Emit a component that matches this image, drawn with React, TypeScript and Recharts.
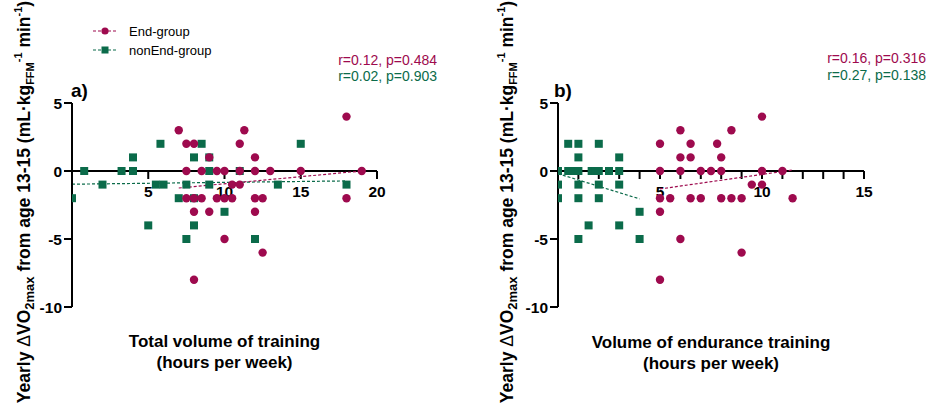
import React from 'react'
import { ScatterChart, Scatter, XAxis, YAxis, ReferenceLine } from 'recharts'

const FONT = "'Liberation Sans', Arial, Helvetica, sans-serif"
const END_COLOR = '#9E0A4E'
const NON_END_COLOR = '#0B6B4A'

// a) total training volume (h/week) vs yearly change
const totalEnd = [
  { x: 7, y: 3 }, { x: 7.5, y: 2 }, { x: 8, y: 2 }, { x: 9, y: 1 }, { x: 11, y: 2 },
  { x: 11.3, y: 3 }, { x: 12, y: 1 }, { x: 18, y: 4 },
  { x: 7.5, y: 0 }, { x: 8.5, y: 0 }, { x: 9.5, y: 0 }, { x: 10, y: 0 }, { x: 11, y: 0 },
  { x: 12, y: 0 }, { x: 13, y: 0 }, { x: 15, y: 0 }, { x: 19, y: 0 },
  { x: 10.5, y: -1 }, { x: 11, y: -1 },
  { x: 7.5, y: -2 }, { x: 8, y: -2 }, { x: 8.5, y: -2 }, { x: 9.5, y: -2 }, { x: 10, y: -2 },
  { x: 10.5, y: -2 }, { x: 12, y: -2 }, { x: 12.5, y: -2 }, { x: 18, y: -2 },
  { x: 8, y: -3 }, { x: 9, y: -3 }, { x: 12, y: -3 },
  { x: 10, y: -5 }, { x: 12.5, y: -6 }, { x: 8, y: -8 },
]
const totalNonEnd = [
  { x: 0, y: -2 }, { x: 0.8, y: 0 }, { x: 2, y: -1 }, { x: 3.25, y: 0 }, { x: 4, y: 1 },
  { x: 4, y: 0 }, { x: 5, y: -4 }, { x: 5.5, y: -1 }, { x: 6, y: -1 }, { x: 5.8, y: 2 },
  { x: 7, y: -2 }, { x: 7.5, y: -5 }, { x: 7.5, y: -1 }, { x: 8, y: 1 }, { x: 8, y: -4 },
  { x: 8, y: -2 }, { x: 8.5, y: 2 }, { x: 9, y: 0 }, { x: 9, y: -1 }, { x: 9, y: 1 },
  { x: 10, y: -3 }, { x: 11, y: 0 }, { x: 12, y: -5 }, { x: 13.5, y: -1 }, { x: 15, y: 2 },
  { x: 18, y: -1 },
]
const totalEndFit = [{ x: 7, y: -1.25 }, { x: 19, y: 0 }]
const totalNonEndFit = [{ x: 0, y: -0.97 }, { x: 18, y: -0.73 }]

// b) endurance training volume (h/week) vs yearly change
const enduranceEnd = [
  { x: 5, y: 2 }, { x: 5, y: 0 }, { x: 5, y: -2 }, { x: 5, y: -3 }, { x: 5, y: -8 },
  { x: 5.5, y: -2 }, { x: 6, y: 3 }, { x: 6, y: 1 }, { x: 6, y: 0 }, { x: 6, y: -5 },
  { x: 6.5, y: 2 }, { x: 6.5, y: 1 }, { x: 6.5, y: -2 }, { x: 7, y: 0 }, { x: 7, y: -2 },
  { x: 7.5, y: 0 }, { x: 7.8, y: 2 }, { x: 8, y: 1 }, { x: 8, y: 0 }, { x: 8, y: -2 },
  { x: 8.5, y: 3 }, { x: 8.5, y: -2 }, { x: 9, y: -2 }, { x: 9, y: -6 }, { x: 9.5, y: -1 },
  { x: 10, y: 4 }, { x: 10, y: 0 }, { x: 10, y: -1 }, { x: 11, y: 0 }, { x: 11.5, y: -2 },
]
const enduranceNonEnd = [
  { x: 0, y: 0 }, { x: 0, y: -1 }, { x: 0, y: -2 },
  { x: 0.5, y: 2 }, { x: 0.5, y: 0 }, { x: 0.75, y: 0 },
  { x: 1, y: 2 }, { x: 1, y: 1 }, { x: 1, y: 0 }, { x: 1, y: -1 }, { x: 1, y: -2 }, { x: 1, y: -5 },
  { x: 1.5, y: -4 }, { x: 1.65, y: 0 }, { x: 1.85, y: 0 },
  { x: 2, y: 2 }, { x: 2, y: 0 }, { x: 2, y: -1 }, { x: 2, y: -2 },
  { x: 2.5, y: 0 }, { x: 3, y: 1 }, { x: 3, y: 0 }, { x: 3, y: -1 }, { x: 3, y: -4 },
  { x: 4, y: -3 }, { x: 4, y: -5 },
]
const enduranceEndFit = [{ x: 5, y: -1.32 }, { x: 11.5, y: 0.07 }]
const enduranceNonEndFit = [{ x: 0, y: -0.2 }, { x: 4, y: -2.05 }]

const yTicks = [-10, -5, 0, 5]
const totalTicks = [5, 10, 15, 20]
const enduranceTicks = [1, 2, 3, 4, 5, 6, 7, 8, 9, 10, 11, 12, 13, 14, 15]
const enduranceLabels = [5, 10, 15]

const Dot = (props: any) => {
  const { cx, cy, fill } = props
  if (cx == null || cy == null) return null
  return <circle cx={cx} cy={cy} r={4.2} fill={fill} />
}

const Square = (props: any) => {
  const { cx, cy, fill } = props
  if (cx == null || cy == null) return null
  return <rect x={cx - 4} y={cy - 4} width={8} height={8} fill={fill} />
}

// x axis drawn along y = 0, with ticks hanging below it
const zeroAxis = (xMax: number, ticks: number[], labels: number[]) => (props: any) => {
  const { x1, x2, y1 } = props
  const px = (v: number) => x1 + ((x2 - x1) * v) / xMax
  return (
    <g>
      <line x1={x1} x2={x2} y1={y1} y2={y1} stroke="#000" strokeWidth={2} />
      {ticks.map((t) => (
        <line key={t} x1={px(t)} x2={px(t)} y1={y1} y2={y1 + 8} stroke="#000" strokeWidth={2} />
      ))}
      {labels.map((t) => (
        <text key={t} x={px(t)} y={y1 + 26} textAnchor="middle" fontFamily={FONT}
          fontSize={15.5} fontWeight="bold" fill="#000">{t}</text>
      ))}
    </g>
  )
}

const YTitle = ({ viewBox, baseX }: any) => {
  const cy = viewBox.y + viewBox.height / 2 - 3
  return (
    <text x={baseX} y={cy} transform={`rotate(-90 ${baseX} ${cy})`} textAnchor="middle"
      fontFamily={FONT} fontSize={17.5} fontWeight="bold" fill="#000">
      Yearly{' '}
      <tspan fontWeight="normal">Δ</tspan>VO
      <tspan fontSize={13} dy={4}>2max</tspan>
      <tspan dy={-4}> from age 13-15 (mL·kg</tspan>
      <tspan fontSize={11} dy={4}>FFM</tspan>
      <tspan fontSize={11} dy={-12}>-1</tspan>
      <tspan dy={8}> min</tspan>
      <tspan fontSize={11} dy={-8}>-1</tspan>
      <tspan dy={8}>)</tspan>
    </text>
  )
}

const XTitle = ({ viewBox, lines, dy }: any) => {
  const cx = viewBox.x + viewBox.width / 2
  return (
    <text textAnchor="middle" fontFamily={FONT} fontSize={17} fontWeight="bold" fill="#000">
      <tspan x={cx} y={viewBox.y + dy}>{lines[0]}</tspan>
      <tspan x={cx} y={viewBox.y + dy + 21}>{lines[1]}</tspan>
    </text>
  )
}

function Panel(props: any) {
  const {
    left, width, yAxisWidth, marginRight, xMax, ticks, labels,
    endData, nonEndData, endFit, nonEndFit, title, titleDy, yTitleX,
  } = props
  return (
    <div style={{ position: 'absolute', left, top: 0 }}>
      <ScatterChart width={width} height={404}
        margin={{ top: 103, right: marginRight, bottom: 0, left: 0 }}>
        <XAxis type="number" dataKey="x" domain={[0, xMax]} allowDataOverflow
          axisLine={false} tickLine={false} tick={false} height={97}
          label={{ content: (p: any) => <XTitle {...p} lines={title} dy={titleDy} /> }} />
        <YAxis type="number" dataKey="y" domain={[-10, 5]} ticks={yTicks} width={yAxisWidth}
          axisLine={{ stroke: '#000', strokeWidth: 2 }}
          tickLine={{ stroke: '#000', strokeWidth: 2 }} tickSize={8} tickMargin={2}
          tick={{ fill: '#000', fontSize: 15.5, fontWeight: 'bold', fontFamily: FONT }}
          label={{ content: (p: any) => <YTitle {...p} baseX={yTitleX} /> }} />
        <ReferenceLine y={0} shape={zeroAxis(xMax, ticks, labels)} />
        <ReferenceLine segment={nonEndFit} stroke={NON_END_COLOR} strokeWidth={1.2}
          strokeDasharray="3 2" ifOverflow="visible" />
        <ReferenceLine segment={endFit} stroke={END_COLOR} strokeWidth={1.2}
          strokeDasharray="3 2" ifOverflow="visible" />
        <Scatter name="nonEnd-group" data={nonEndData} fill={NON_END_COLOR}
          shape={Square} isAnimationActive={false} />
        <Scatter name="End-group" data={endData} fill={END_COLOR}
          shape={Dot} isAnimationActive={false} />
      </ScatterChart>
    </div>
  )
}

export default function App() {
  return (
    <div style={{ position: 'absolute', left: 0, top: 0, width: 931, height: 404, background: '#fff' }}>
      <Panel left={0} width={465} yAxisWidth={72} marginRight={88} xMax={20}
        ticks={totalTicks} labels={totalTicks}
        endData={totalEnd} nonEndData={totalNonEnd} endFit={totalEndFit} nonEndFit={totalNonEndFit}
        title={['Total volume of training', '(hours per week)']} titleDy={39.5} yTitleX={30} />
      <Panel left={465} width={466} yAxisWidth={93} marginRight={67} xMax={15}
        ticks={enduranceTicks} labels={enduranceLabels}
        endData={enduranceEnd} nonEndData={enduranceNonEnd} endFit={enduranceEndFit}
        nonEndFit={enduranceNonEndFit}
        title={['Volume of endurance training', '(hours per week)']} titleDy={41} yTitleX={48} />
      <svg width={931} height={404} style={{ position: 'absolute', left: 0, top: 0, pointerEvents: 'none' }}
        fontFamily={FONT}>
        <line x1={93} x2={117} y1={31} y2={31} stroke={END_COLOR} strokeWidth={1.2} strokeDasharray="3 2" />
        <circle cx={105} cy={31} r={3.6} fill={END_COLOR} />
        <text x={129} y={35.5} fontSize={13} fill="#000">End-group</text>
        <line x1={93} x2={117} y1={50} y2={50} stroke={NON_END_COLOR} strokeWidth={1.2} strokeDasharray="3 2" />
        <rect x={101.5} y={46.5} width={7} height={7} fill={NON_END_COLOR} />
        <text x={129} y={54.5} fontSize={13} fill="#000">nonEnd-group</text>

        <text x={71} y={97} fontSize={19} fontWeight="bold" fill="#000">a)</text>
        <text x={554} y={97} fontSize={19} fontWeight="bold" fill="#000">b)</text>

        <text x={437} y={65} fontSize={14} textAnchor="end" fill={END_COLOR}>r=0.12, p=0.484</text>
        <text x={437} y={81} fontSize={14} textAnchor="end" fill={NON_END_COLOR}>r=0.02, p=0.903</text>
        <text x={926} y={63} fontSize={14} textAnchor="end" fill={END_COLOR}>r=0.16, p=0.316</text>
        <text x={926} y={80} fontSize={14} textAnchor="end" fill={NON_END_COLOR}>r=0.27, p=0.138</text>
      </svg>
    </div>
  )
}
